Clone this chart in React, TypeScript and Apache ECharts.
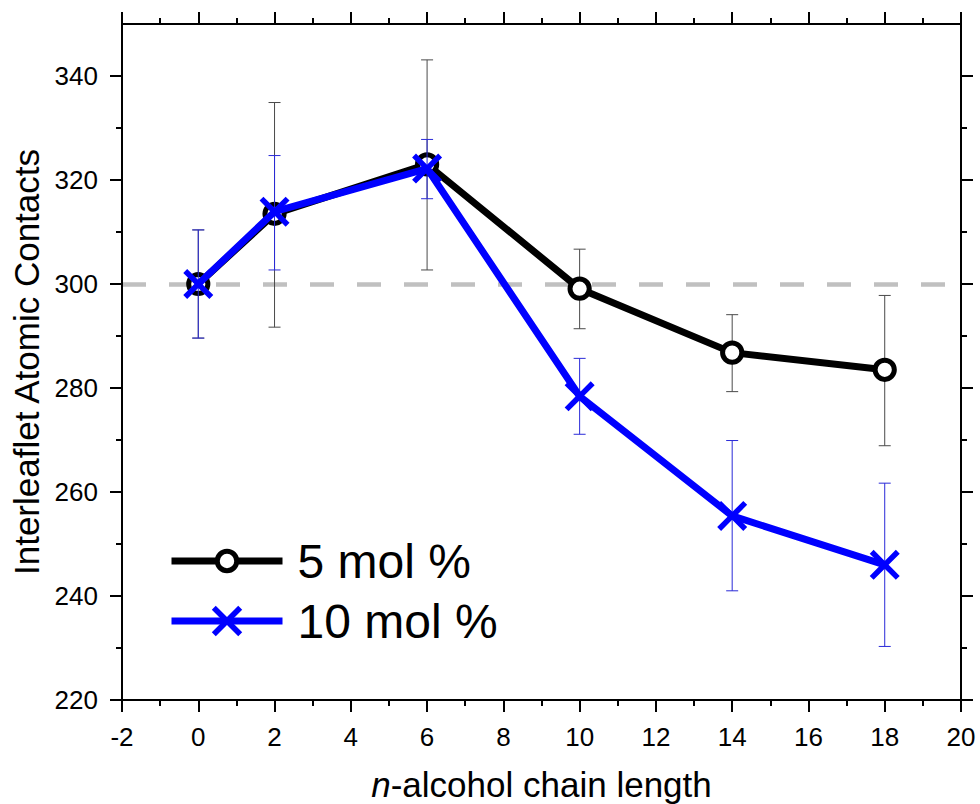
import React, { useEffect, useRef } from "react";
import * as echarts from "echarts";

const chainLength = [0, 2, 6, 10, 14, 18];

const mol5 = [300.0, 313.5, 323.0, 299.1, 286.8, 283.5];
const mol5Low = [289.6, 291.7, 302.7, 291.4, 279.3, 268.9];
const mol5High = [310.4, 334.9, 343.1, 306.7, 294.1, 297.8];

const mol10 = [300.0, 313.9, 322.2, 278.4, 255.4, 246.0];
const mol10Low = [289.6, 302.7, 316.4, 271.1, 241.0, 230.3];
const mol10High = [310.4, 324.7, 327.8, 285.7, 269.9, 261.7];

const referenceLevel = 300;

const yMajorTicks = [220, 240, 260, 280, 300, 320, 340];
const yMinorTicks = [230, 250, 270, 290, 310, 330];

const seriesNames = ["5 mol %", "10 mol %"];

const FONT = '"Liberation Sans", Arial, Helvetica, sans-serif';

// open circle with padding so that legend/plot ratios match
const CIRCLE_SYMBOL =
  "path://M0,0M30,30M5.4,15A9.6,9.6,0,1,1,24.6,15A9.6,9.6,0,1,1,5.4,15Z";
const X_SYMBOL =
  "path://M0,1.3L1.3,0L5,3.7L8.7,0L10,1.3L6.3,5L10,8.7L8.7,10L5,6.3L1.3,10L0,8.7L3.7,5Z";

function errorBarSeries(name: string, low: number[], high: number[], color: string, z: number, extra: any = {}) {
  return {
    type: "custom",
    name,
    z,
    xAxisIndex: 0,
    yAxisIndex: 0,
    data: chainLength.map((x, i) => [x, low[i], high[i]]),
    encode: { x: 0, y: [1, 2] },
    renderItem: (params: any, api: any) => {
      const x = api.value(0);
      const pLo = api.coord([x, api.value(1)]);
      const pHi = api.coord([x, api.value(2)]);
      const half = 6;
      const style = { stroke: color, lineWidth: 1, fill: "none" };
      return {
        type: "group",
        children: [
          { type: "line", shape: { x1: pLo[0], y1: pLo[1], x2: pHi[0], y2: pHi[1] }, style },
          { type: "line", shape: { x1: pLo[0] - half, y1: pLo[1], x2: pLo[0] + half, y2: pLo[1] }, style },
          { type: "line", shape: { x1: pHi[0] - half, y1: pHi[1], x2: pHi[0] + half, y2: pHi[1] }, style },
        ],
      };
    },
    silent: true,
    ...extra,
  };
}

export default function App() {
  const ref = useRef<HTMLDivElement>(null);

  useEffect(() => {
    if (!ref.current) return;
    const chart = echarts.init(ref.current, undefined, { renderer: "svg" });

    const axisLine = { show: true, onZero: false, lineStyle: { color: "#000", width: 2 } };
    const majorTick = { show: true, inside: false, length: 12, lineStyle: { color: "#000", width: 2 } };
    const minorTickX = { show: true, splitNumber: 2, length: 6, lineStyle: { color: "#000", width: 2 } };
    const labelStyle = { color: "#000", fontFamily: FONT, fontSize: 26 };

    const xCommon = {
      type: "value",
      min: -2,
      max: 20,
      interval: 2,
      splitLine: { show: false },
      axisLine,
      axisTick: majorTick,
      minorTick: minorTickX,
    };

    const yCommon = {
      type: "value",
      min: 220,
      max: 350,
      interval: 10,
      splitLine: { show: false },
    };

    const option: any = {
      animation: false,
      backgroundColor: "#fff",
      grid: { left: 122, right: 19, top: 24, bottom: 104, outerBoundsMode: "none", containLabel: false },
      xAxis: [
        {
          ...xCommon,
          position: "bottom",
          axisLabel: { ...labelStyle, margin: 24 },
          name: "{i|n}-alcohol chain length",
          nameLocation: "middle",
          nameGap: 67,
          nameTextStyle: {
            color: "#000",
            fontFamily: FONT,
            fontSize: 35,
            rich: { i: { fontStyle: "italic", fontFamily: FONT, fontSize: 35, color: "#000" } },
          },
        },
        {
          ...xCommon,
          position: "top",
          axisLabel: { show: false },
        },
      ],
      yAxis: [
        {
          ...yCommon,
          position: "left",
          axisLine,
          axisTick: { ...majorTick, customValues: yMajorTicks },
          axisLabel: { ...labelStyle, margin: 24, customValues: yMajorTicks },
          name: "Interleaflet Atomic Contacts",
          nameLocation: "middle",
          nameGap: 70,
          nameTextStyle: { color: "#000", fontFamily: FONT, fontSize: 35 },
        },
        {
          ...yCommon,
          position: "left",
          axisLine: { show: false, onZero: false },
          axisTick: { show: true, inside: false, length: 6, customValues: yMinorTicks, lineStyle: { color: "#000", width: 2 } },
          axisLabel: { show: false },
        },
        {
          ...yCommon,
          position: "right",
          axisLine,
          axisTick: { ...majorTick, customValues: yMajorTicks },
          axisLabel: { show: false },
        },
        {
          ...yCommon,
          position: "right",
          axisLine: { show: false, onZero: false },
          axisTick: { show: true, inside: false, length: 6, customValues: yMinorTicks, lineStyle: { color: "#000", width: 2 } },
          axisLabel: { show: false },
        },
      ],
      legend: {
        data: [
          { name: seriesNames[0], itemStyle: { borderWidth: 5, borderColor: "#000", color: "#fff" }, lineStyle: { width: 7, color: "#000" } },
          { name: seriesNames[1], itemStyle: { borderWidth: 0, color: "#0000ff" }, lineStyle: { width: 7, color: "#0000ff" } },
        ],
        orient: "vertical",
        left: 168,
        top: 537,
        padding: 0,
        itemWidth: 111,
        itemHeight: 38,
        itemGap: 12,
        selectedMode: false,
        lineStyle: { width: 7 },
        textStyle: { color: "#000", fontFamily: FONT, fontSize: 48, lineHeight: 48, padding: [0, 0, 0, 10] },
      },
      series: [
        errorBarSeries("err5", mol5Low, mol5High, "#4a4a4a", 1, {
          markLine: {
            silent: true,
            z: 0,
            symbol: ["none", "none"],
            label: { show: false },
            lineStyle: { color: "#c0c0c0", width: 4.5, type: [24, 23] },
            data: [{ yAxis: referenceLevel }],
          },
        }),
        {
          type: "line",
          name: seriesNames[0],
          z: 2,
          data: chainLength.map((x, i) => [x, mol5[i]]),
          symbol: CIRCLE_SYMBOL,
          symbolSize: 30,
          showAllSymbol: true,
          lineStyle: { color: "#000", width: 7 },
          itemStyle: { color: "#fff", borderColor: "#000", borderWidth: 5 },
        },
        errorBarSeries("err10", mol10Low, mol10High, "#2a2ad8", 3),
        {
          type: "line",
          name: seriesNames[1],
          z: 4,
          data: chainLength.map((x, i) => [x, mol10[i]]),
          symbol: X_SYMBOL,
          symbolSize: 30,
          showAllSymbol: true,
          lineStyle: { color: "#0000ff", width: 7 },
          itemStyle: { color: "#0000ff", borderWidth: 0 },
        },
      ],
    };

    chart.setOption(option);
    return () => chart.dispose();
  }, []);

  return (
    <div
      ref={ref}
      style={{ position: "fixed", left: 0, top: 0, width: 980, height: 804, background: "#fff" }}
    />
  );
}
